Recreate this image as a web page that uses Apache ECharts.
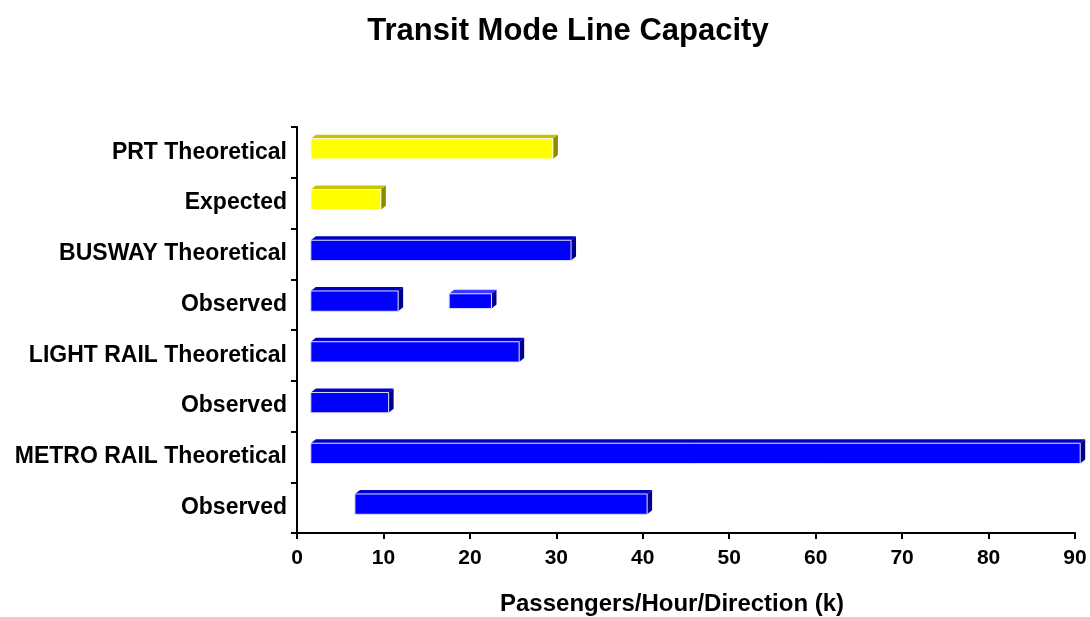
<!DOCTYPE html>
<html>
<head>
<meta charset="utf-8">
<title>Transit Mode Line Capacity</title>
<script src="https://cdn.jsdelivr.net/npm/echarts@6/dist/echarts.min.js"></script>
<style>
  html, body { margin: 0; padding: 0; background: #fff; }
  #chart { width: 1090px; height: 617px; }
</style>
</head>
<body>
<div id="chart"></div>
<script>
// categories, top to bottom
const categories = [
  "PRT Theoretical",
  "Expected",
  "BUSWAY Theoretical",
  "Observed",
  "LIGHT RAIL Theoretical",
  "Observed",
  "METRO RAIL Theoretical",
  "Observed"
];
// main bar of each row (k passengers/hour/direction)
const barStart = [1.6, 1.6, 1.6, 1.6, 1.6, 1.6, 1.6, 6.7];
const barEnd = [29.6, 9.7, 31.7, 11.7, 25.7, 10.6, 90.6, 40.5];
// 0 = PRT (yellow), 1 = bus / rail (blue)
const barGroup = [0, 0, 1, 1, 1, 1, 1, 1];
// second, thinner bar on the busway observed row
const extraRow = [3];
const extraStart = [17.6];
const extraEnd = [22.5];
const xTicks = [0, 10, 20, 30, 40, 50, 60, 70, 80, 90];

const palette = [
  { front: "#ffff00", top: "#c8c400", side: "#8c8a00", edge: "#ffffff" },
  { front: "#0000ff", top: "#0000c4", side: "#00008c", edge: "#dcdcff" },
  { front: "#0000ff", top: "#3a3aff", side: "#00008c", edge: "#dcdcff" }
];

const FONT = "Liberation Sans, Arial, sans-serif";
const DX = 5, DY = 4;

const mainData = categories.map((c, i) => [i, barStart[i], barEnd[i], barGroup[i], 0.4]);
const extraData = extraRow.map((r, i) => [r, extraStart[i], extraEnd[i], 2, 0.29]);

function renderBox(params, api) {
  const row = api.value(0);
  const p0 = api.coord([api.value(1), row]);
  const p1 = api.coord([api.value(2), row]);
  const band = api.size([0, 1])[1];
  const h = band * api.value(4);
  const col = palette[api.value(3)] || palette[1];
  const x0 = p0[0], x1 = p1[0];
  const y0 = p0[1] - h / 2 - 3.5, y1 = y0 + h;
  return {
    type: "group",
    children: [
      {
        type: "polygon",
        shape: { points: [[x0, y0], [x0 + DX, y0 - DY], [x1 + DX, y0 - DY], [x1, y0]] },
        style: { fill: col.top }
      },
      {
        type: "polygon",
        shape: { points: [[x1, y0], [x1 + DX, y0 - DY], [x1 + DX, y1 - DY], [x1, y1]] },
        style: { fill: col.side }
      },
      {
        type: "rect",
        shape: { x: x0, y: y0, width: x1 - x0, height: h },
        style: { fill: col.front, stroke: col.edge, lineWidth: 1 }
      }
    ]
  };
}

const chart = echarts.init(document.getElementById("chart"));
chart.setOption({
  backgroundColor: "#fff",
  animation: false,
  title: {
    text: "Transit Mode Line Capacity",
    left: 563,
    textAlign: "center",
    top: 11,
    textStyle: { fontFamily: FONT, fontSize: 31, fontWeight: "bold", color: "#000" }
  },
  graphic: [
    {
      type: "text",
      left: 500,
      top: 592,
      style: { text: "Passengers/Hour/Direction (k)", font: "bold 24px " + FONT, fill: "#000" }
    }
  ],
  grid: { left: 297, right: 15, top: 127, bottom: 84 },
  xAxis: {
    type: "value",
    min: 0,
    max: 90,
    interval: 10,
    splitLine: { show: false },
    axisLine: { show: true, lineStyle: { color: "#000", width: 2 } },
    axisTick: { show: true, length: 6, lineStyle: { color: "#000", width: 2 } },
    axisLabel: {
      margin: 15,
      fontFamily: FONT,
      fontSize: 21,
      fontWeight: "bold",
      color: "#000",
      formatter: v => (xTicks.indexOf(v) >= 0 ? String(v) : "")
    }
  },
  yAxis: {
    type: "category",
    inverse: true,
    data: categories,
    axisLine: { show: true, lineStyle: { color: "#000", width: 2 } },
    axisTick: { show: true, length: 6, lineStyle: { color: "#000", width: 2 } },
    axisLabel: {
      margin: 10,
      padding: [6, 0, 0, 0],
      fontFamily: FONT,
      fontSize: 23,
      fontWeight: "bold",
      color: "#000"
    }
  },
  series: [
    {
      type: "custom",
      renderItem: renderBox,
      clip: false,
      encode: { x: [1, 2], y: 0 },
      data: mainData
    },
    {
      type: "custom",
      renderItem: renderBox,
      clip: false,
      encode: { x: [1, 2], y: 0 },
      data: extraData
    }
  ]
});
window.addEventListener("resize", chart.resize);
</script>
</body>
</html>
